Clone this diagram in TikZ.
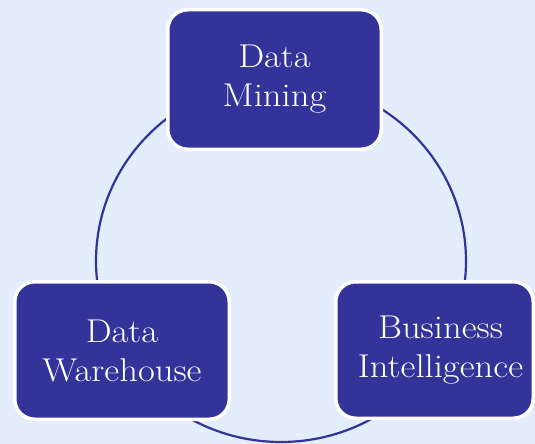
\documentclass[tikz,border=0pt]{standalone}
\usepackage{fontspec}
\newfontfamily\boxfont{lmroman17-regular.otf}[FakeStretch=1.11]
\definecolor{bgblue}{RGB}{228,237,252}
\definecolor{boxblue}{RGB}{51,51,153}
\definecolor{ringblue}{RGB}{51,51,153}
\begin{document}
\begin{tikzpicture}[x=1pt,y=-1pt,
  cyclebox/.style={draw=white, line width=3.5pt, fill=boxblue, rounded corners=20pt,
    inner sep=0pt, text=white, align=center,
    font=\boxfont\fontsize{33}{39}\selectfont},
  ring/.style={draw=ringblue, line width=2.2pt}]
\useasboundingbox (0,0) rectangle (535,444);
\fill[bgblue] (0,0) rectangle (535,444);
\coordinate (c) at (281,261);
\draw[ring] (c) ellipse [x radius=185pt, y radius=181pt];
\node[cyclebox, minimum width=213.5pt, minimum height=139.5pt] (dm) at (274.5,79.5) {Data\\Mining};
\node[cyclebox, minimum width=214.5pt, minimum height=137.5pt] (dw) at (122,350.5) {Data\\Warehouse};
\node[cyclebox, minimum width=197.5pt, minimum height=136.5pt, text width=190pt] (bi) at (434.5,350) {\hspace*{12pt}Business\\\hspace*{12pt}Intelligence};
\end{tikzpicture}
\end{document}
